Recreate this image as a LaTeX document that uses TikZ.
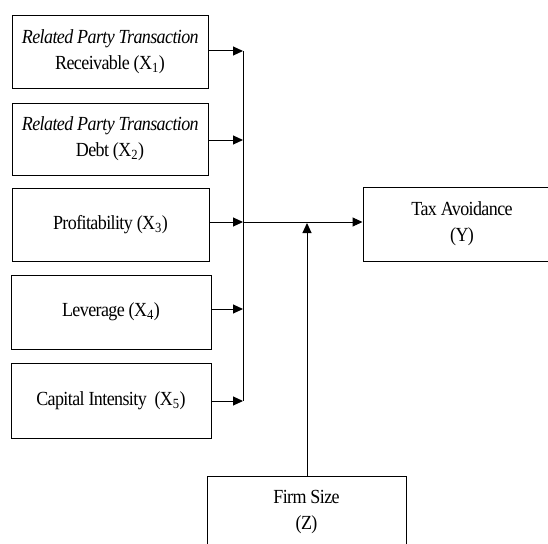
\documentclass[tikz,border=0pt]{standalone}
\usepackage{fontspec}
\setmainfont{Liberation Serif}[FakeStretch=0.9, LetterSpace=-3.0]
\usetikzlibrary{arrows.meta}
\begin{document}
\begin{tikzpicture}[x=1pt,y=-1pt,
  box/.style={draw, line width=1pt, align=center, inner sep=0pt,
    font=\fontsize{20}{26}\selectfont},
  link/.style={line width=1pt, -{Triangle[length=10pt,width=9pt]}},
  plain/.style={line width=1pt}]
\useasboundingbox (0,0) rectangle (548,543);
\clip (0,0) rectangle (548,543);
\node[box, minimum width=196pt, minimum height=72pt] (x1) at (110,52)
  {\textit{Related Party Transaction}\\Receivable (X\textsubscript{1})};
\node[box, minimum width=196pt, minimum height=72pt] (x2) at (110,139)
  {\textit{Related Party Transaction}\\Debt (X\textsubscript{2})};
\node[box, minimum width=197pt, minimum height=73pt] (x3) at (110.5,224.5)
  {Profitability (X\textsubscript{3})};
\node[box, minimum width=200pt, minimum height=74pt] (x4) at (111,312)
  {Leverage (X\textsubscript{4})};
\node[box, minimum width=200pt, minimum height=75pt] (x5) at (111,400.5)
  {Capital Intensity~ (X\textsubscript{5})};
\node[box, minimum width=198pt, minimum height=74pt] (y) at (462,224)
  {Tax Avoidance\\(Y)};
\node[box, minimum width=199pt, minimum height=72pt] (z) at (306.5,512)
  {Firm Size\\(Z)};
\coordinate (b1) at (243,51);
\coordinate (b2) at (243,140);
\coordinate (b3) at (243,222);
\coordinate (b4) at (243,309);
\coordinate (b5) at (243,401);
\coordinate (m) at (307,223);
\draw[link] (x1.east |- b1) -- (b1);
\draw[link] (x2.east |- b2) -- (b2);
\draw[link] (x3.east |- b3) -- (b3);
\draw[link] (x4.east |- b4) -- (b4);
\draw[link] (x5.east |- b5) -- (b5);
\draw[plain] (b1) -- (b5);
\draw[link] (b3) -- (y.west |- b3);
\draw[link] (z.north -| m) -- (m);
\end{tikzpicture}
\end{document}
